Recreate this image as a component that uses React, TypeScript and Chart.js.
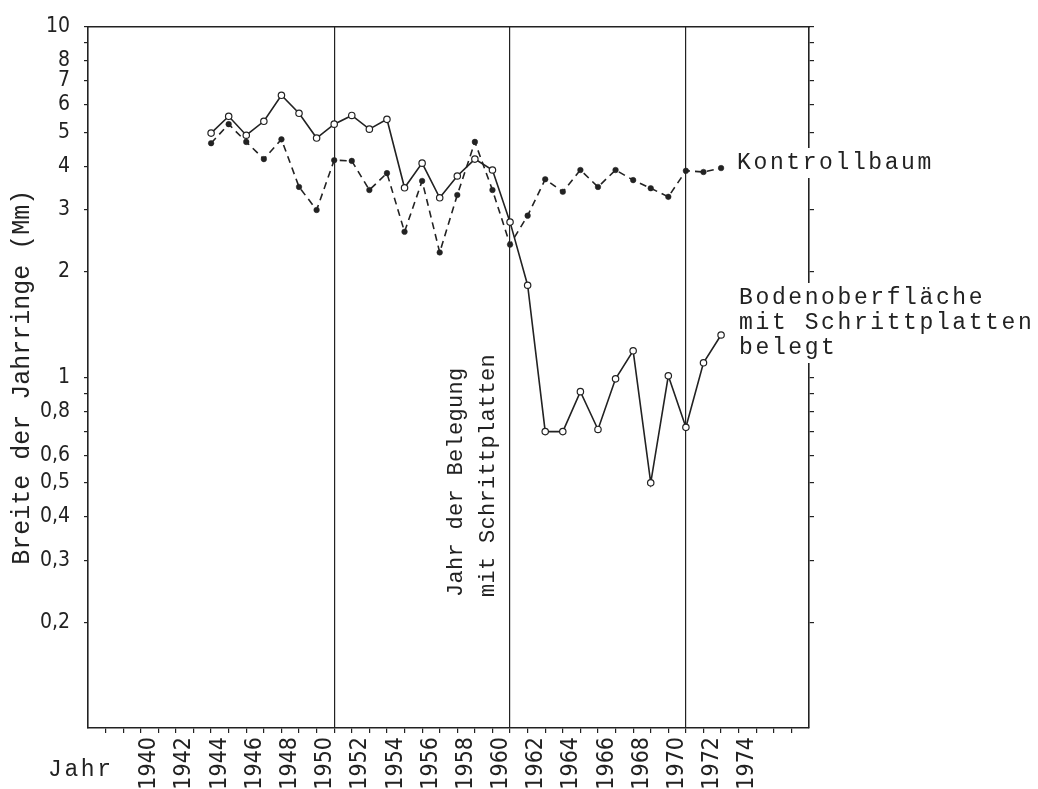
import React, { useEffect, useRef } from "react";
import { Chart, registerables } from "chart.js";

Chart.register(...registerables);

// ---- data ----
const years = [
  1943, 1944, 1945, 1946, 1947, 1948, 1949, 1950, 1951, 1952,
  1953, 1954, 1955, 1956, 1957, 1958, 1959, 1960, 1961, 1962,
  1963, 1964, 1965, 1966, 1967, 1968, 1969, 1970, 1971, 1972,
];
const bodenValues = [
  4.97, 5.55, 4.9, 5.37, 6.37, 5.66, 4.81, 5.27, 5.58, 5.1,
  5.44, 3.47, 4.08, 3.25, 3.75, 4.19, 3.9, 2.77, 1.83, 0.7,
  0.7, 0.91, 0.71, 0.99, 1.19, 0.5, 1.01, 0.72, 1.1, 1.32,
];
const kontrollValues = [
  4.65, 5.27, 4.69, 4.19, 4.77, 3.49, 3.0, 4.16, 4.14, 3.42,
  3.82, 2.6, 3.63, 2.27, 3.31, 4.69, 3.42, 2.39, 2.89, 3.67,
  3.38, 3.9, 3.49, 3.9, 3.65, 3.46, 3.27, 3.88, 3.85, 3.95,
];

const yTickValues = [0.2, 0.3, 0.4, 0.5, 0.6, 0.7, 0.8, 0.9, 1, 2, 3, 4, 5, 6, 7, 8, 9, 10];
const yLabelValues = [0.2, 0.3, 0.4, 0.5, 0.6, 0.8, 1, 2, 3, 4, 5, 6, 7, 8, 10];
const xTickYears = [
  1937, 1938, 1939, 1940, 1941, 1942, 1943, 1944, 1945, 1946,
  1947, 1948, 1949, 1950, 1951, 1952, 1953, 1954, 1955, 1956,
  1957, 1958, 1959, 1960, 1961, 1962, 1963, 1964, 1965, 1966,
  1967, 1968, 1969, 1970, 1971, 1972, 1973, 1974, 1975, 1976,
];
const xLabelYears = [
  1940, 1942, 1944, 1946, 1948, 1950, 1952, 1954, 1956, 1958,
  1960, 1962, 1964, 1966, 1968, 1970, 1972, 1974,
];
const markerYears = [1950, 1960, 1970];

const yTitle = "Breite der Jahrringe (Mm)";
const xTitle = "Jahr";
const kontrollLabel = "Kontrollbaum";
const bodenLabel = ["Bodenoberfläche", "mit Schrittplatten", "belegt"];
const belegungLabel = ["Jahr der Belegung", "mit Schrittplatten"];

const INK = "#222";
const MONO = "'Liberation Mono', 'DejaVu Sans Mono', monospace";
const NARROW = "'Liberation Sans Narrow', 'DejaVu Sans Condensed', 'Roboto Condensed', 'Liberation Sans', sans-serif";

const annotationPlugin = {
  id: "annotations",
  afterDraw(chart: any) {
    const { ctx, scales } = chart;
    const xs = scales.x;
    ctx.save();
    ctx.font = `23px ${MONO}`;
    (ctx as any).letterSpacing = "2.6px";
    ctx.textAlign = "left";
    ctx.textBaseline = "alphabetic";

    // Kontrollbaum
    const kx = xs.getPixelForValue(years[years.length - 1]) + 16;
    const ky = 169;
    const kw = ctx.measureText(kontrollLabel).width;
    ctx.fillStyle = "#fff";
    ctx.fillRect(kx - 4, ky - 21, kw + 6, 30);
    ctx.fillStyle = INK;
    ctx.fillText(kontrollLabel, kx, ky);

    // Bodenoberfläche block
    const bx = kx + 2;
    const by = 304;
    let bw = 0;
    bodenLabel.forEach((t) => (bw = Math.max(bw, ctx.measureText(t).width)));
    ctx.fillStyle = "#fff";
    ctx.fillRect(bx - 4, by - 21, bw + 6, 25 * 2 + 30);
    ctx.fillStyle = INK;
    bodenLabel.forEach((t, i) => ctx.fillText(t, bx, by + i * 25));

    // Jahr
    ctx.fillText(xTitle, 48, 776);

    // rotated note
    ctx.font = `22px ${MONO}`;
    (ctx as any).letterSpacing = "0.3px";
    ctx.textBaseline = "middle";
    const base = xs.getPixelForValue(1960);
    const offsets = [-54, -22];
    belegungLabel.forEach((t, i) => {
      ctx.save();
      ctx.translate(base + offsets[i], 597);
      ctx.rotate(-Math.PI / 2);
      ctx.fillText(t, 0, 0);
      ctx.restore();
    });
    ctx.restore();
  },
};

export default function App() {
  const ref = useRef<HTMLCanvasElement | null>(null);

  useEffect(() => {
    if (!ref.current) return;
    const chart = new Chart(ref.current, {
      type: "line",
      data: {
        datasets: [
          {
            label: "Kontrollbaum",
            data: years.map((yr, i) => ({ x: yr, y: kontrollValues[i] })),
            borderColor: INK,
            borderWidth: 1.6,
            borderDash: [7, 5],
            pointRadius: 2.8,
            pointBackgroundColor: INK,
            pointBorderColor: INK,
            pointBorderWidth: 0.5,
            tension: 0,
          },
          {
            label: "Bodenoberfläche mit Schrittplatten belegt",
            data: years.map((yr, i) => ({ x: yr, y: bodenValues[i] })),
            borderColor: INK,
            borderWidth: 1.6,
            pointRadius: 3.2,
            pointBackgroundColor: "#fff",
            pointBorderColor: INK,
            pointBorderWidth: 1.2,
            tension: 0,
          },
        ],
      },
      options: {
        animation: false,
        responsive: true,
        maintainAspectRatio: false,
        layout: { padding: { top: 24, left: 0, right: 219, bottom: 0 } },
        plugins: { legend: { display: false }, tooltip: { enabled: false } },
        scales: {
          x: {
            type: "linear",
            position: "bottom",
            min: 1936,
            max: 1977,
            afterBuildTicks: (s: any) => {
              s.ticks = xTickYears.map((v) => ({ value: v }));
            },
            afterFit: (s: any) => {
              s.height = 61;
            },
            ticks: {
              autoSkip: false,
              minRotation: 90,
              maxRotation: 90,
              padding: 4,
              labelOffset: -9,
              color: INK,
              font: { family: NARROW, size: 23 },
              callback: (v: any) => (xLabelYears.includes(Number(v)) ? String(v) : ""),
            },
            grid: {
              drawOnChartArea: true,
              drawTicks: true,
              tickLength: 5,
              tickColor: INK,
              lineWidth: 1.2,
              color: (c: any) =>
                c.tick && markerYears.includes(c.tick.value) ? INK : "rgba(0,0,0,0)",
            },
            border: { display: true, color: INK, width: 1.6 },
          },
          x2: {
            type: "linear",
            position: "top",
            min: 1936,
            max: 1977,
            afterFit: (s: any) => {
              s.height = 0;
            },
            ticks: { display: false },
            grid: { drawOnChartArea: false, drawTicks: false },
            border: { display: true, color: INK, width: 1.6 },
          },
          y: {
            type: "logarithmic",
            position: "left",
            min: 0.1,
            max: 10,
            afterBuildTicks: (s: any) => {
              s.ticks = yTickValues.map((v) => ({ value: v }));
            },
            afterFit: (s: any) => {
              s.width = 88;
            },
            ticks: {
              autoSkip: false,
              padding: 14,
              color: INK,
              font: { family: NARROW, size: 21 },
              callback: (v: any) => {
                const n = Number(v);
                return yLabelValues.includes(n) ? String(n).replace(".", ",") : "";
              },
            },
            grid: {
              drawOnChartArea: false,
              drawTicks: true,
              tickLength: 4,
              tickColor: INK,
              lineWidth: 1.2,
            },
            border: { display: true, color: INK, width: 1.6 },
            title: {
              display: true,
              text: yTitle,
              color: INK,
              font: { family: MONO, size: 25 },
              padding: { top: 7, bottom: 0 },
            },
          },
          y2: {
            type: "logarithmic",
            position: "right",
            min: 0.1,
            max: 10,
            afterBuildTicks: (s: any) => {
              s.ticks = yTickValues.map((v) => ({ value: v }));
            },
            afterFit: (s: any) => {
              s.width = 10;
            },
            ticks: { display: false },
            grid: {
              drawOnChartArea: false,
              drawTicks: true,
              tickLength: 5,
              tickColor: INK,
              lineWidth: 1.2,
            },
            border: { display: true, color: INK, width: 1.6 },
          },
        },
      } as any,
      plugins: [annotationPlugin],
    });
    return () => chart.destroy();
  }, []);

  return (
    <div style={{ position: "fixed", left: 0, top: 0, width: 1038, height: 789, background: "#fff" }}>
      <canvas ref={ref} />
    </div>
  );
}
